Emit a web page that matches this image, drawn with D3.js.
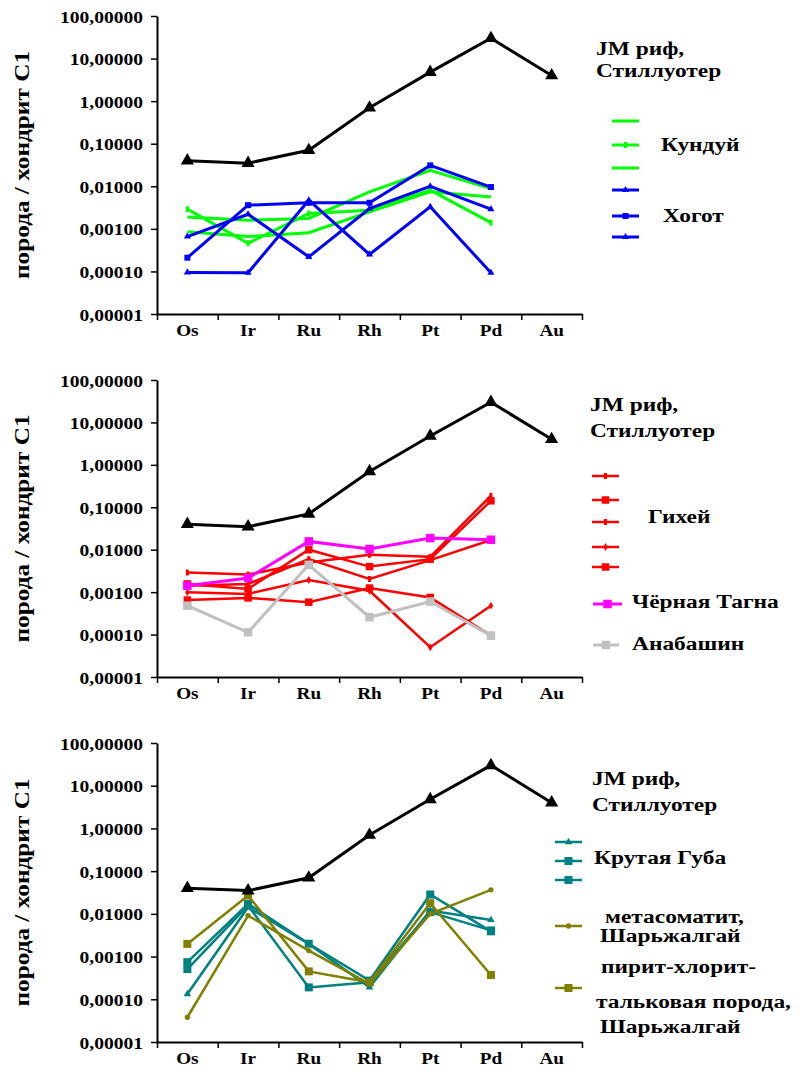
<!DOCTYPE html>
<html><head><meta charset="utf-8">
<script src="https://cdn.jsdelivr.net/npm/d3@7"></script>
<style>
body{margin:0;background:#fff;}
svg{display:block;}
</style>
</head><body>
<svg id="chart" width="800" height="1086"></svg>
<script>
// ---------- data ----------
const categories = ["Os","Ir","Ru","Rh","Pt","Pd","Au"];
const yTickValues = [1e-5,1e-4,1e-3,1e-2,1e-1,1,10,100];
const yTickLabels = ["0,00001","0,00010","0,00100","0,01000","0,10000","1,00000","10,00000","100,00000"];
const yTitle = "порода / хондрит С1";
const refLabel = ["JM риф,","Стиллуотер"];
const stillwater = [0.040,0.035,0.070,0.70,4.8,30,4.0];

// panel 1
const kundui1 = [0.0019,0.0016,0.00176,0.0074,0.0237,0.0088];
const kundui2 = [0.0029,0.00046,0.0023,0.00275,0.0081,0.0014];
const kundui3 = [0.00086,0.00066,0.00081,0.0025,0.0074,0.0056];
const khogot1 = [0.000095,0.000093,0.0047,0.00025,0.0033,0.000093];
const khogot2 = [0.00021,0.0036,0.0041,0.0041,0.031,0.0096];
const khogot3 = [0.00066,0.0022,0.00022,0.0030,0.010,0.0029];
const panel1Labels = ["Кундуй","Хогот"];

// panel 2
const gikhei1 = [0.0029,0.0026,0.0050,0.0076,0.0068,0.187];
const gikhei2 = [0.00156,0.00119,0.0100,0.0040,0.0060,0.142];
const gikhei3 = [0.00142,0.00156,0.0060,0.00204,0.0057,0.0169];
const gikhei4 = [0.00099,0.00091,0.00193,0.00108,0.0000503,0.00048];
const gikhei5 = [0.00065,0.00073,0.00058,0.00125,0.00075,0.0000946];
const chernayaTagna = [0.00142,0.00216,0.0157,0.0104,0.0188,0.0172];
const anabashin = [0.00048,0.000113,0.0044,0.000256,0.0006,0.0000946];
const panel2Labels = ["Гихей","Чёрная Тагна","Анабашин"];

// panel 3
const krutaya1 = [0.000133,0.0143,0.00198,0.00019,0.012,0.0072];
const krutaya2 = [0.00074,0.0171,0.0020,0.000274,0.0284,0.0039];
const krutaya3 = [0.00051,0.0157,0.00019,0.00025,0.011,0.0041];
const metasomatit = [0.000038,0.0091,0.00138,0.00023,0.0100,0.0365];
const piritRock = [0.00198,0.0269,0.00045,0.00025,0.0178,0.00037];
const panel3Labels = ["Крутая Губа","метасоматит,","Шарьжалгай","пирит-хлорит-","тальковая порода,","Шарьжалгай"];

// ---------- layout / styles ----------
const FONT = "Liberation Serif";
const svg = d3.select("#chart").attr("font-family",FONT).attr("font-weight","bold");
const X0 = 157, X1 = 582;
const STRETCH = 1.3;
const C = {black:"#000000",green:"#00FF00",blue:"#0000FF",red:"#FF0000",magenta:"#FF00FF",gray:"#C0C0C0",teal:"#008080",olive:"#808000"};

function styleText(sel){
  sel.attr("font-family",FONT).attr("font-weight","bold").attr("fill","#000");
}
function stretch(sel,k){
  sel.each(function(){
    const w=this.getComputedTextLength();
    this.setAttribute("textLength",w*k);
    this.setAttribute("lengthAdjust","spacingAndGlyphs");
  });
}

const refSeries = {values:stillwater,color:C.black,marker:"triangle",size:75,width:3};

const panels = [
  {top:16,bottom:314,
   series:[
     {values:kundui1,color:C.green,marker:"none",width:3},
     {values:kundui2,color:C.green,marker:"tick",size:12,width:3},
     {values:kundui3,color:C.green,marker:"none",width:3},
     {values:khogot1,color:C.blue,marker:"triangle",size:22,width:3},
     {values:khogot2,color:C.blue,marker:"square",size:36,width:3},
     {values:khogot3,color:C.blue,marker:"triangle",size:22,width:3}
   ],
   ref:{x:596,y:[49,71]},
   legend:{x:[612,639],items:[
     {s:0,y:121},{s:1,y:145},{s:2,y:168},{s:3,y:190},{s:4,y:216},{s:5,y:237}]},
   labels:[{t:panel1Labels[0],x:661,y:145},{t:panel1Labels[1],x:663,y:216}]
  },
  {top:380,bottom:677,
   series:[
     {values:gikhei1,color:C.red,marker:"tick",size:14,width:2.5},
     {values:gikhei2,color:C.red,marker:"square",size:56,width:2.5},
     {values:gikhei3,color:C.red,marker:"tick",size:14,width:2.5},
     {values:gikhei4,color:C.red,marker:"diamond",size:18,width:2.5},
     {values:gikhei5,color:C.red,marker:"square",size:56,width:2.5},
     {values:chernayaTagna,color:C.magenta,marker:"square",size:72,width:3},
     {values:anabashin,color:C.gray,marker:"square",size:72,width:3}
   ],
   ref:{x:590,y:[405,431]},
   legend:{x:[592,619],items:[
     {s:0,y:476},{s:1,y:500},{s:2,y:522},{s:3,y:547},{s:4,y:567},{s:5,y:604,x:[593,622]},{s:6,y:645,x:[593,619]}]},
   labels:[{t:panel2Labels[0],x:648,y:517},{t:panel2Labels[1],x:632,y:602},{t:panel2Labels[2],x:632,y:644}]
  },
  {top:743,bottom:1042,
   series:[
     {values:krutaya1,color:C.teal,marker:"triangle",size:24,width:2.5},
     {values:krutaya2,color:C.teal,marker:"square",size:64,width:2.5},
     {values:krutaya3,color:C.teal,marker:"square",size:64,width:2.5},
     {values:metasomatit,color:C.olive,marker:"circle",size:22,width:2.5},
     {values:piritRock,color:C.olive,marker:"square",size:64,width:2.5}
   ],
   ref:{x:592,y:[779,805]},
   legend:{x:[555,582],items:[
     {s:0,y:842},{s:1,y:861},{s:2,y:880},{s:3,y:926},{s:4,y:988}]},
   labels:[{t:panel3Labels[0],x:594,y:858},{t:panel3Labels[1],x:605,y:917},{t:panel3Labels[2],x:600,y:936},
           {t:panel3Labels[3],x:601,y:967},{t:panel3Labels[4],x:596,y:1002},{t:panel3Labels[5],x:600,y:1027}]
  }
];

const xBand = d3.scaleBand().domain(categories).range([X0,X1]).paddingInner(0).paddingOuter(0);
const xEdge = d3.scaleLinear().domain([0,categories.length]).range([X0,X1]);
const xc = c => xBand(c)+xBand.bandwidth()/2;

function drawMarker(g,type,size,color,x,y){
  if(type==="none") return;
  if(type==="tick"){
    g.append("rect").attr("x",x-1.5).attr("y",y-3).attr("width",3).attr("height",6).attr("fill",color);
    return;
  }
  const sym = {triangle:d3.symbolTriangle,square:d3.symbolSquare,circle:d3.symbolCircle,diamond:d3.symbolDiamond}[type];
  g.append("path").attr("d",d3.symbol().type(sym).size(size)()).attr("transform",`translate(${x},${y})`).attr("fill",color);
}

function drawSeries(g,s,y){
  const pts = s.values.map((v,i)=>[xc(categories[i]),y(v)]);
  g.append("path").attr("d",d3.line()(pts)).attr("fill","none").attr("stroke",s.color)
   .attr("stroke-width",s.width).attr("stroke-linejoin","miter");
  pts.forEach(p=>drawMarker(g,s.marker,s.size,s.color,p[0],p[1]));
}

function addText(x,y,t,size,anchor){
  const el = svg.append("text").attr("x",x).attr("y",y+size*0.33).attr("font-size",size)
    .attr("text-anchor",anchor||"start").text(t);
  styleText(el);
  stretch(el,STRETCH);
  return el;
}

panels.forEach(p=>{
  const y = d3.scaleLog().domain([1e-5,100]).range([p.bottom,p.top]);
  const g = svg.append("g");

  // y axis
  const ya = g.append("g").attr("transform",`translate(${X0},0)`)
    .call(d3.axisLeft(y).tickValues(yTickValues).tickFormat((d,i)=>yTickLabels[i]).tickSize(6).tickSizeOuter(0).tickPadding(8));
  ya.attr("font-family",FONT).attr("font-size",null);
  ya.select(".domain").attr("stroke-width",2);
  ya.selectAll(".tick line").attr("stroke-width",1.5);
  ya.selectAll("text").attr("font-size",16).attr("dy","0.38em");
  styleText(ya.selectAll("text"));
  stretch(ya.selectAll("text"),1.22);

  // x axis edge ticks
  const xa = g.append("g").attr("transform",`translate(0,${p.bottom})`)
    .call(d3.axisBottom(xEdge).ticks(categories.length).tickFormat("").tickSize(6).tickSizeOuter(0));
  xa.select(".domain").attr("stroke-width",2);
  xa.selectAll(".tick line").attr("stroke-width",1.5);
  // x labels
  const xl = g.append("g").attr("transform",`translate(0,${p.bottom})`)
    .call(d3.axisBottom(xBand).tickSize(0).tickPadding(11));
  xl.attr("font-family",FONT).attr("font-size",null);
  xl.select(".domain").remove();
  xl.selectAll("text").attr("font-size",16);
  styleText(xl.selectAll("text"));
  stretch(xl.selectAll("text"),1.2);

  // title
  const tc = (p.top+p.bottom)/2;
  const tt = g.append("text").attr("transform",`translate(29,${tc}) rotate(-90)`).attr("text-anchor","middle")
    .attr("font-size",20).attr("textLength",228).attr("lengthAdjust","spacingAndGlyphs").text(yTitle);
  styleText(tt);

  // series
  p.series.forEach(s=>drawSeries(g,s,y));
  drawSeries(g,refSeries,y);

  // legend
  p.legend.items.forEach(it=>{
    const s = p.series[it.s];
    const xs = it.x || p.legend.x;
    g.append("line").attr("x1",xs[0]).attr("x2",xs[1]).attr("y1",it.y).attr("y2",it.y)
      .attr("stroke",s.color).attr("stroke-width",s.width);
    drawMarker(g,s.marker,s.size,s.color,(xs[0]+xs[1])/2,it.y);
  });
  addText(p.ref.x,p.ref.y[0],refLabel[0],18);
  addText(p.ref.x,p.ref.y[1],refLabel[1],18);
  p.labels.forEach(l=>addText(l.x,l.y,l.t,18));
});
</script>
</body></html>
